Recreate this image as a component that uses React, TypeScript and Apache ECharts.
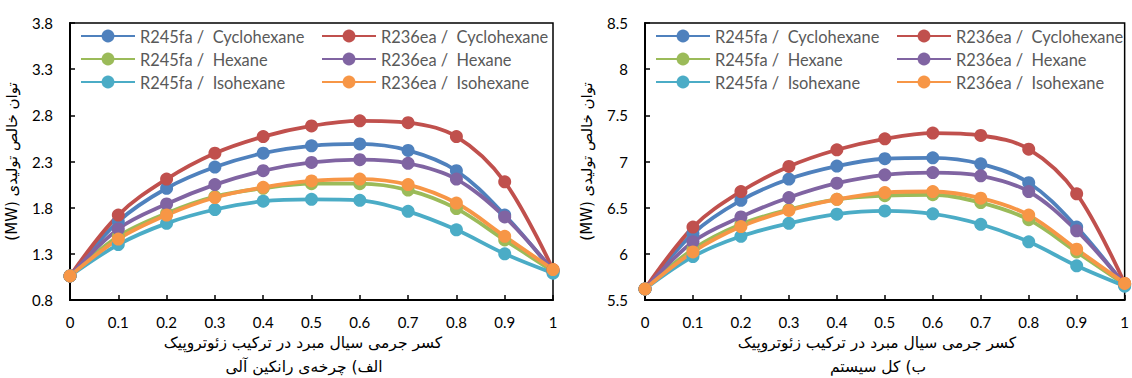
import React, { useEffect, useRef } from "react";
import * as echarts from "echarts";

const massFractions = [0, 0.1, 0.2, 0.3, 0.4, 0.5, 0.6, 0.7, 0.8, 0.9, 1];
const seriesNames = [
  "R245fa /  Cyclohexane",
  "R236ea /  Cyclohexane",
  "R245fa /  Hexane",
  "R236ea /  Hexane",
  "R245fa /  Isohexane",
  "R236ea /  Isohexane",
];
const seriesColors = ["#4F81BD", "#C0504D", "#9BBB59", "#8064A2", "#4BACC6", "#F79646"];

// (الف) Organic Rankine cycle net power (MW)
const cycleR245faCyclohexane = [1.06, 1.65, 2.01, 2.24, 2.39, 2.47, 2.49, 2.42, 2.2, 1.72, 1.11];
const cycleR236eaCyclohexane = [1.06, 1.72, 2.11, 2.39, 2.57, 2.685, 2.74, 2.72, 2.57, 2.08, 1.13];
const cycleR245faHexane = [1.06, 1.49, 1.74, 1.92, 2.01, 2.06, 2.06, 1.99, 1.79, 1.45, 1.11];
const cycleR236eaHexane = [1.06, 1.57, 1.84, 2.05, 2.2, 2.29, 2.32, 2.28, 2.11, 1.7, 1.12];
const cycleR245faIsohexane = [1.06, 1.4, 1.63, 1.78, 1.87, 1.89, 1.88, 1.76, 1.56, 1.3, 1.09];
const cycleR236eaIsohexane = [1.06, 1.46, 1.72, 1.91, 2.02, 2.09, 2.11, 2.05, 1.85, 1.49, 1.13];

// (ب) Whole system net power (MW)
const systemR245faCyclohexane = [5.62, 6.22, 6.58, 6.81, 6.95, 7.03, 7.04, 6.975, 6.77, 6.29, 5.66];
const systemR236eaCyclohexane = [5.62, 6.29, 6.675, 6.946, 7.127, 7.246, 7.308, 7.282, 7.134, 6.65, 5.68];
const systemR245faHexane = [5.62, 6.05, 6.32, 6.48, 6.59, 6.63, 6.64, 6.555, 6.37, 6.02, 5.67];
const systemR236eaHexane = [5.62, 6.13, 6.4, 6.61, 6.765, 6.856, 6.88, 6.845, 6.675, 6.25, 5.67];
const systemR245faIsohexane = [5.62, 5.97, 6.19, 6.33, 6.43, 6.465, 6.433, 6.32, 6.13, 5.87, 5.65];
const systemR236eaIsohexane = [5.62, 6.02, 6.295, 6.47, 6.59, 6.664, 6.675, 6.603, 6.42, 6.05, 5.68];

const cycleTicks = [0.8, 1.3, 1.8, 2.3, 2.8, 3.3, 3.8];
const systemTicks = [5.5, 6, 6.5, 7, 7.5, 8, 8.5];

const yAxisTitle = "توان خالص تولیدی (MW)";
const xAxisTitle = "کسر جرمی سیال مبرد در ترکیب زئوتروپیک";
const cycleCaption = "الف) چرخه‌ی رانکین آلی";
const systemCaption = "ب) کل سیستم";

const cycleSets = [
  cycleR245faCyclohexane,
  cycleR236eaCyclohexane,
  cycleR245faHexane,
  cycleR236eaHexane,
  cycleR245faIsohexane,
  cycleR236eaIsohexane,
];
const systemSets = [
  systemR245faCyclohexane,
  systemR236eaCyclohexane,
  systemR245faHexane,
  systemR236eaHexane,
  systemR245faIsohexane,
  systemR236eaIsohexane,
];

const LATIN = "Lato, 'Open Sans', sans-serif";
const PERSIAN = "'DejaVu Sans', 'Noto Sans', sans-serif";

function buildSeries(sets: number[][], axisIndex: number) {
  return sets.map((vals, i) => ({
    name: seriesNames[i],
    type: "line",
    xAxisIndex: axisIndex,
    yAxisIndex: axisIndex,
    data: massFractions.map((x, k) => [x, vals[k]]),
    smooth: 0.35,
    symbol: "circle",
    symbolSize: 13,
    clip: false,
    color: seriesColors[i],
    lineStyle: { width: 3.8, color: seriesColors[i] },
    itemStyle: { color: seriesColors[i] },
  }));
}

function xAxisDef(gridIndex: number) {
  return {
    type: "value",
    gridIndex,
    min: 0,
    max: 1,
    interval: 0.1,
    splitLine: { show: false },
    axisLine: { show: true, lineStyle: { color: "#000", width: 2 } },
    axisTick: { show: true, inside: true, length: 5, lineStyle: { color: "#000", width: 1.5 } },
    axisLabel: { color: "#000", fontFamily: LATIN, fontSize: 15, margin: 14 },
  };
}

function yAxisDef(gridIndex: number, ticks: number[]) {
  return {
    type: "value",
    gridIndex,
    min: ticks[0],
    max: ticks[ticks.length - 1],
    splitLine: { show: false },
    axisLine: { show: true, onZero: false, lineStyle: { color: "#000", width: 2 } },
    axisTick: { show: true, inside: true, length: 5, customValues: ticks, lineStyle: { color: "#000", width: 1.5 } },
    axisLabel: { color: "#000", fontFamily: LATIN, fontSize: 15, margin: 17, customValues: ticks },
    name: "\u202B" + yAxisTitle + "\u202C",
    nameLocation: "middle",
    nameRotate: 90,
    nameGap: 51,
    nameTextStyle: { color: "#000", fontFamily: PERSIAN, fontSize: 15 },
  };
}

function legendsFor(gridLeft: number) {
  const cols = [gridLeft + 10, gridLeft + 251];
  const rows = [37, 60, 83];
  return seriesNames.map((name, i) => ({
    data: [name],
    left: cols[i % 2],
    top: rows[Math.floor(i / 2)] - 9,
    itemWidth: 54,
    itemHeight: 16,
    padding: 0,
    textStyle: { color: "#595959", fontFamily: LATIN, fontSize: 16.4 },
  }));
}

export default function App() {
  const ref = useRef<HTMLDivElement>(null);
  useEffect(() => {
    if (!ref.current) return;
    const chart = echarts.init(ref.current, null, { renderer: "svg" });
    const grids = [
      { left: 70, top: 23, width: 483, height: 277 },
      { left: 645, top: 23, width: 484, height: 277 },
    ];
    const font = `15.5px ${PERSIAN}`;
    chart.setOption({
      animation: false,
      backgroundColor: "#fff",
      grid: grids.map((g) => ({ ...g, show: true, borderColor: "#000", borderWidth: 1.5, backgroundColor: "transparent" })),
      xAxis: [xAxisDef(0), xAxisDef(1)],
      yAxis: [yAxisDef(0, cycleTicks), yAxisDef(1, systemTicks)],
      legend: [...legendsFor(70), ...legendsFor(645)],
      series: [...buildSeries(cycleSets, 0), ...buildSeries(systemSets, 1)],
      graphic: [
        { type: "text", x: 303, y: 343, style: { text: xAxisTitle, font, fill: "#000", align: "center", verticalAlign: "middle" } },
        { type: "text", x: 304, y: 367, style: { text: cycleCaption, font, fill: "#000", align: "center", verticalAlign: "middle" } },
        { type: "text", x: 877, y: 343, style: { text: xAxisTitle, font, fill: "#000", align: "center", verticalAlign: "middle" } },
        { type: "text", x: 878, y: 367, style: { text: systemCaption, font, fill: "#000", align: "center", verticalAlign: "middle" } },
      ],
    });
    return () => chart.dispose();
  }, []);
  return (
    <div
      ref={ref}
      style={{ position: "fixed", left: 0, top: 0, width: 1132, height: 378 }}
    />
  );
}
